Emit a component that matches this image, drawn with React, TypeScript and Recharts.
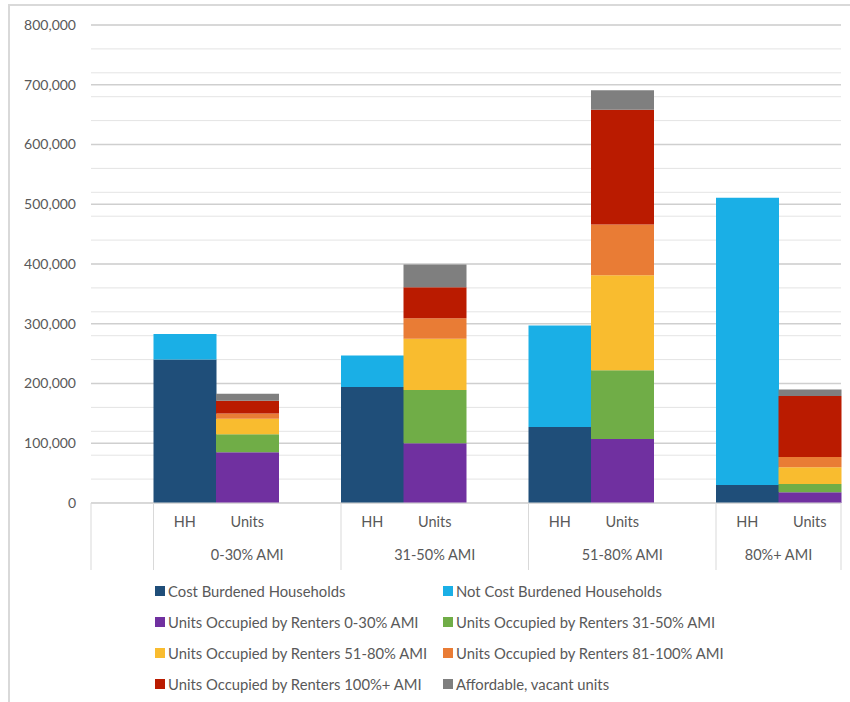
import { BarChart, Bar, XAxis, YAxis, CartesianGrid } from 'recharts'

// slot layout: a blank slot first, then HH / Units / blank per AMI group
const slotLabels = ['', 'HH', 'Units', '', 'HH', 'Units', '', 'HH', 'Units', '', 'HH', 'Units']
const slotGroup = [-1, 0, 0, 0, 1, 1, 1, 2, 2, 2, 3, 3]
const groupLabels = ['0-30% AMI', '31-50% AMI', '51-80% AMI', '80%+ AMI']

// households (HH bars)
const costBurdened = [240000, 194000, 127000, 30000]
const notCostBurdened = [43000, 53000, 170000, 481000]

// units (Units bars)
const renters0to30 = [85000, 100000, 107000, 18000]
const renters31to50 = [30000, 89000, 115000, 14000]
const renters51to80 = [26000, 86000, 159000, 28000]
const renters81to100 = [9000, 34000, 85000, 17000]
const renters100plus = [21000, 52000, 192000, 102000]
const vacantUnits = [12000, 38000, 33000, 11000]

const yTicks = [0, 100000, 200000, 300000, 400000, 500000, 600000, 700000, 800000]
const minorTicks = Array.from({ length: 41 }, (_, i) => i * 20000)

const hhSeries = [
  { key: 'cb', name: 'Cost Burdened Households', color: '#1F4E79', values: costBurdened },
  { key: 'ncb', name: 'Not Cost Burdened Households', color: '#1AAFE6', values: notCostBurdened },
]
const unitSeries = [
  { key: 'r030', name: 'Units Occupied by Renters 0-30% AMI', color: '#7030A0', values: renters0to30 },
  { key: 'r3150', name: 'Units Occupied by Renters 31-50% AMI', color: '#70AD47', values: renters31to50 },
  { key: 'r5180', name: 'Units Occupied by Renters 51-80% AMI', color: '#F9BC2F', values: renters51to80 },
  { key: 'r81100', name: 'Units Occupied by Renters 81-100% AMI', color: '#E97C35', values: renters81to100 },
  { key: 'r100', name: 'Units Occupied by Renters 100%+ AMI', color: '#BA1B00', values: renters100plus },
  { key: 'vac', name: 'Affordable, vacant units', color: '#7F7F7F', values: vacantUnits },
]
const allSeries = [...hhSeries, ...unitSeries]

const data = slotLabels.map((label, i) => {
  const row: Record<string, any> = { slot: 's' + i, label }
  const g = slotGroup[i]
  if (label === 'HH') hhSeries.forEach(s => (row[s.key] = s.values[g]))
  if (label === 'Units') unitSeries.forEach(s => (row[s.key] = s.values[g]))
  return row
})

const W = 850
const H = 702
const PLOT_LEFT = 91
const PLOT_RIGHT = 841
const PLOT_TOP = 25
const AXIS_Y = 503
const X_AXIS_H = 70
const SLOT = (PLOT_RIGHT - PLOT_LEFT) / slotLabels.length
const TEXT = '#595959'
const FONT = 'Lato, "Open Sans", sans-serif'

const XTick = (props: any) => {
  const { x, payload } = props
  const i = payload.index
  const left = x - SLOT / 2
  const g = slotGroup[i]
  const groupStart = i === 0 || slotGroup[i - 1] !== g
  const groupSlots = slotGroup.filter(v => v === g).length
  return (
    <g>
      <text x={x} y={523} textAnchor="middle" dominantBaseline="middle" fill={TEXT} fontSize={14.5} fontFamily={FONT}>
        {slotLabels[i]}
      </text>
      {groupStart && (
        <line x1={left} x2={left} y1={AXIS_Y} y2={570} stroke="#d9d9d9" strokeWidth={1} />
      )}
      {groupStart && g >= 0 && (
        <text
          x={left + (groupSlots * SLOT) / 2}
          y={556}
          textAnchor="middle"
          dominantBaseline="middle"
          fill={TEXT}
          fontSize={14.5}
          fontFamily={FONT}
        >
          {groupLabels[g]}
        </text>
      )}
      {i === slotLabels.length - 1 && (
        <line x1={x + SLOT / 2} x2={x + SLOT / 2} y1={AXIS_Y} y2={570} stroke="#d9d9d9" strokeWidth={1} />
      )}
    </g>
  )
}

const legendRows = [
  [allSeries[0], allSeries[1]],
  [allSeries[2], allSeries[3]],
  [allSeries[4], allSeries[5]],
  [allSeries[6], allSeries[7]],
]

export default function App() {
  return (
    <div style={{ position: 'absolute', left: 0, top: 0, width: W, height: H, background: '#fff', fontFamily: FONT }}>
      <div
        style={{
          position: 'absolute',
          left: 8,
          top: 4,
          width: W - 8,
          height: H - 4,
          borderLeft: '2px solid #d9d9d9',
          borderTop: '2px solid #d9d9d9',
        }}
      />
      <BarChart
        width={W}
        height={H}
        data={data}
        barCategoryGap={0}
        barGap={0}
        margin={{ top: PLOT_TOP, left: 10, right: W - PLOT_RIGHT, bottom: H - AXIS_Y - X_AXIS_H }}
      >
        <CartesianGrid vertical={false} horizontalValues={minorTicks} stroke="#e4e4e4" strokeWidth={1} />
        <CartesianGrid vertical={false} horizontalValues={yTicks} stroke="#cfcfcf" strokeWidth={1.3} />
        <YAxis
          width={81}
          domain={[0, 800000]}
          ticks={yTicks}
          axisLine={false}
          tickLine={false}
          tickMargin={9}
          tickFormatter={(v: number) => v.toLocaleString('en-US')}
          tick={{ fill: TEXT, fontSize: 14, fontFamily: FONT }}
        />
        <XAxis
          dataKey="slot"
          height={X_AXIS_H}
          interval={0}
          tickLine={false}
          axisLine={{ stroke: '#d9d9d9' }}
          tick={<XTick />}
        />
        {allSeries.map(s => (
          <Bar key={s.key} dataKey={s.key} name={s.name} stackId="a" fill={s.color} isAnimationActive={false} />
        ))}
      </BarChart>
      {legendRows.map((row, r) =>
        row.map((s, c) => (
          <div
            key={s.key}
            style={{
              position: 'absolute',
              left: c === 0 ? 155 : 443,
              top: 591 + r * 31 - 9,
              height: 18,
              display: 'flex',
              alignItems: 'center',
              fontSize: 14.8,
              color: TEXT,
              whiteSpace: 'nowrap',
            }}
          >
            <span style={{ display: 'inline-block', width: 10, height: 10, background: s.color, marginRight: 3 }} />
            {s.name}
          </div>
        ))
      )}
    </div>
  )
}
